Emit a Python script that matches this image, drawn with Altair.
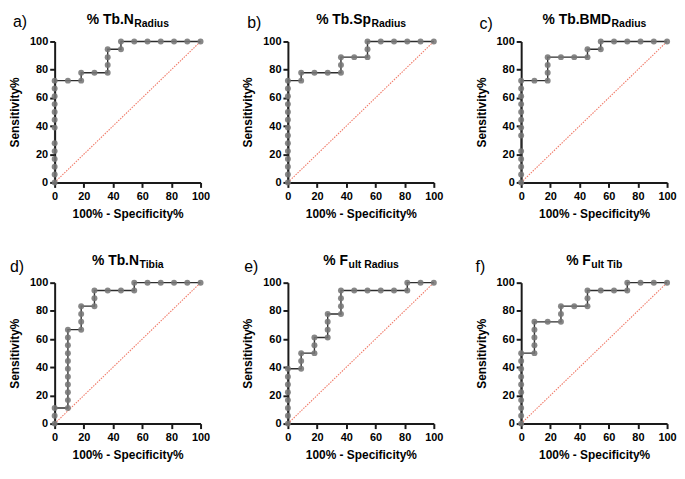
import altair as alt
import pandas as pd

# ---- data (x = 100% - Specificity%, y = Sensitivity%) ----
a_x = [0, 0, 0, 0, 0, 0, 0, 0, 0, 0, 0, 0, 0, 9.09, 18.18, 18.18, 27.27, 36.36, 36.36, 36.36, 36.36,
       45.45, 45.45, 54.55, 63.64, 72.73, 81.82, 90.91, 100]
a_y = [0, 5.56, 11.11, 16.67, 22.22, 27.78, 38.89, 44.44, 50, 55.56, 61.11, 66.67, 72.22, 72.22, 72.22,
       77.78, 77.78, 77.78, 83.33, 88.89, 94.44, 94.44, 100, 100, 100, 100, 100, 100, 100]

b_x = [0, 0, 0, 0, 0, 0, 0, 0, 0, 0, 0, 0, 0, 0, 9.09, 9.09, 18.18, 27.27, 36.36, 36.36, 36.36, 45.45,
       54.55, 54.55, 54.55, 63.64, 72.73, 81.82, 90.91, 100]
b_y = [0, 5.56, 11.11, 16.67, 22.22, 27.78, 33.33, 38.89, 44.44, 50, 55.56, 61.11, 66.67, 72.22, 72.22,
       77.78, 77.78, 77.78, 77.78, 83.33, 88.89, 88.89, 88.89, 94.44, 100, 100, 100, 100, 100, 100]

c_x = [0, 0, 0, 0, 0, 0, 0, 0, 0, 0, 0, 0, 0, 9.09, 18.18, 18.18, 18.18, 18.18, 27.27, 36.36, 45.45,
       45.45, 54.55, 54.55, 63.64, 72.73, 81.82, 90.91, 100]
c_y = [0, 5.56, 11.11, 16.67, 22.22, 33.33, 38.89, 44.44, 50, 55.56, 61.11, 66.67, 72.22, 72.22, 72.22,
       77.78, 83.33, 88.89, 88.89, 88.89, 88.89, 94.44, 94.44, 100, 100, 100, 100, 100, 100]

d_x = [0, 0, 0, 9.09, 9.09, 9.09, 9.09, 9.09, 9.09, 9.09, 9.09, 9.09, 9.09, 9.09, 18.18, 18.18, 18.18,
       18.18, 27.27, 27.27, 27.27, 36.36, 45.45, 54.55, 54.55, 63.64, 72.73, 81.82, 90.91, 100]
d_y = [0, 5.56, 11.11, 11.11, 16.67, 22.22, 27.78, 33.33, 38.89, 44.44, 50, 55.56, 61.11, 66.67, 66.67,
       72.22, 77.78, 83.33, 83.33, 88.89, 94.44, 94.44, 94.44, 94.44, 100, 100, 100, 100, 100, 100]

e_x = [0, 0, 0, 0, 0, 0, 0, 0, 9.09, 9.09, 9.09, 18.18, 18.18, 18.18, 27.27, 27.27, 27.27, 27.27,
       36.36, 36.36, 36.36, 36.36, 45.45, 54.55, 63.64, 72.73, 81.82, 81.82, 90.91, 100]
e_y = [0, 5.56, 11.11, 16.67, 22.22, 27.78, 33.33, 38.89, 38.89, 44.44, 50, 50, 55.56, 61.11, 61.11,
       66.67, 72.22, 77.78, 77.78, 83.33, 88.89, 94.44, 94.44, 94.44, 94.44, 94.44, 94.44, 100, 100, 100]

f_x = [0, 0, 0, 0, 0, 0, 0, 0, 0, 0, 9.09, 9.09, 9.09, 9.09, 9.09, 18.18, 27.27, 27.27, 27.27, 36.36,
       45.45, 45.45, 45.45, 54.55, 63.64, 72.73, 72.73, 81.82, 90.91, 100]
f_y = [0, 5.56, 11.11, 16.67, 22.22, 27.78, 33.33, 38.89, 44.44, 50, 50, 55.56, 61.11, 66.67, 72.22,
       72.22, 72.22, 77.78, 83.33, 83.33, 83.33, 88.89, 94.44, 94.44, 94.44, 94.44, 100, 100, 100, 100]

letters = ["a)", "b)", "c)", "d)", "e)", "f)"]
title_main = ["% Tb.N", "% Tb.Sp", "% Tb.BMD", "% Tb.N", "% F", "% F"]
title_sub = ["Radius", "Radius", "Radius", "Tibia", "ult Radius", "ult Tib"]
x_ticks = [0, 20, 40, 60, 80, 100]
y_ticks = [0, 20, 40, 60, 80, 100]
diag_x = [0, 100]
diag_y = [0, 100]

# ---- layout / style ----
W, H = 147, 142
FONT = "Liberation Sans"
MAIN_SIZE, SUB_SIZE = 14, 10.5
letter_pos = [(-42, -20), (-41, -19), (-42, -18), (-45, -16), (-44, -16), (-46, -16)]

# Arial-bold advance widths (per em) for title centering
ADV = {'%': .889, ' ': .278, 'T': .611, 'b': .611, '.': .278, 'N': .722, 'S': .667, 'p': .611,
       'B': .722, 'M': .833, 'D': .722, 'F': .611, 'R': .722, 'a': .556, 'd': .611, 'i': .278,
       'u': .611, 's': .556, 'l': .278, 't': .333}


def tw(s, size):
    return sum(ADV.get(ch, .6) for ch in s) * size


def panel(i, xs, ys):
    df = pd.DataFrame({"fpr": xs, "sens": ys, "k": list(range(len(xs)))})
    xenc = alt.X("fpr:Q", scale=alt.Scale(domain=[0, 100], nice=False, zero=False),
                 axis=alt.Axis(values=x_ticks, tickCount=6, title="100% - Specificity%", labelFlush=False,
                               labelOverlap=False, labelPadding=3, titlePadding=7))
    yenc = alt.Y("sens:Q", scale=alt.Scale(domain=[0, 100], nice=False, zero=False),
                 axis=alt.Axis(values=y_ticks, tickCount=6, title="Sensitivity%", labelOverlap=False,
                               labelPadding=2, titlePadding=8))
    diag = alt.Chart(pd.DataFrame({"fpr": diag_x, "sens": diag_y})).mark_line(
        color="#f07a68", strokeWidth=1.1, strokeDash=[1.5, 1.2]).encode(x=xenc, y=yenc)
    base = alt.Chart(df).encode(x=xenc, y=yenc, order="k:Q")
    line = base.mark_line(color="#2e2e2e", strokeWidth=1.4)
    pts = base.mark_circle(size=36, color="#767676", opacity=0.88)

    wm, ws = tw(title_main[i], MAIN_SIZE), tw(title_sub[i], SUB_SIZE)
    junction = W / 2 - (wm + ws) / 2 + wm
    one = pd.DataFrame({"m": [title_main[i]], "s": [title_sub[i]], "l": [letters[i]]})
    t_main = alt.Chart(one).mark_text(font=FONT, fontSize=MAIN_SIZE, fontWeight="bold", align="right",
                                      baseline="alphabetic", color="black").encode(
        text="m:N", x=alt.value(junction), y=alt.value(-18))
    t_sub = alt.Chart(one).mark_text(font=FONT, fontSize=SUB_SIZE, fontWeight="bold", align="left",
                                     baseline="alphabetic", color="black").encode(
        text="s:N", x=alt.value(junction + 0.5), y=alt.value(-14.5))
    lx, ly = letter_pos[i]
    t_letter = alt.Chart(one).mark_text(font=FONT, fontSize=16, align="left", baseline="middle",
                                        color="black").encode(
        text="l:N", x=alt.value(lx), y=alt.value(ly))
    return alt.layer(diag, line, pts, t_main, t_sub, t_letter).properties(width=W, height=H)


panels = [panel(0, a_x, a_y), panel(1, b_x, b_y), panel(2, c_x, c_y),
          panel(3, d_x, d_y), panel(4, e_x, e_y), panel(5, f_x, f_y)]

chart = alt.concat(*panels, columns=3, spacing={"row": 101, "column": 88}, bounds="flush").properties(
    padding={"top": 3, "bottom": 8, "left": 0, "right": 0}
).configure_view(stroke=None).configure_axis(
    grid=False,
    domainColor="#1a1a1a", domainWidth=2,
    tickColor="#1a1a1a", tickWidth=2, tickSize=5,
    labelFont=FONT, labelFontSize=11, labelFontWeight="bold", labelColor="black",
    titleFont=FONT, titleFontSize=12, titleFontWeight="bold", titleColor="black",
)

chart.save("out.html", embed_options={"renderer": "svg", "actions": False})
